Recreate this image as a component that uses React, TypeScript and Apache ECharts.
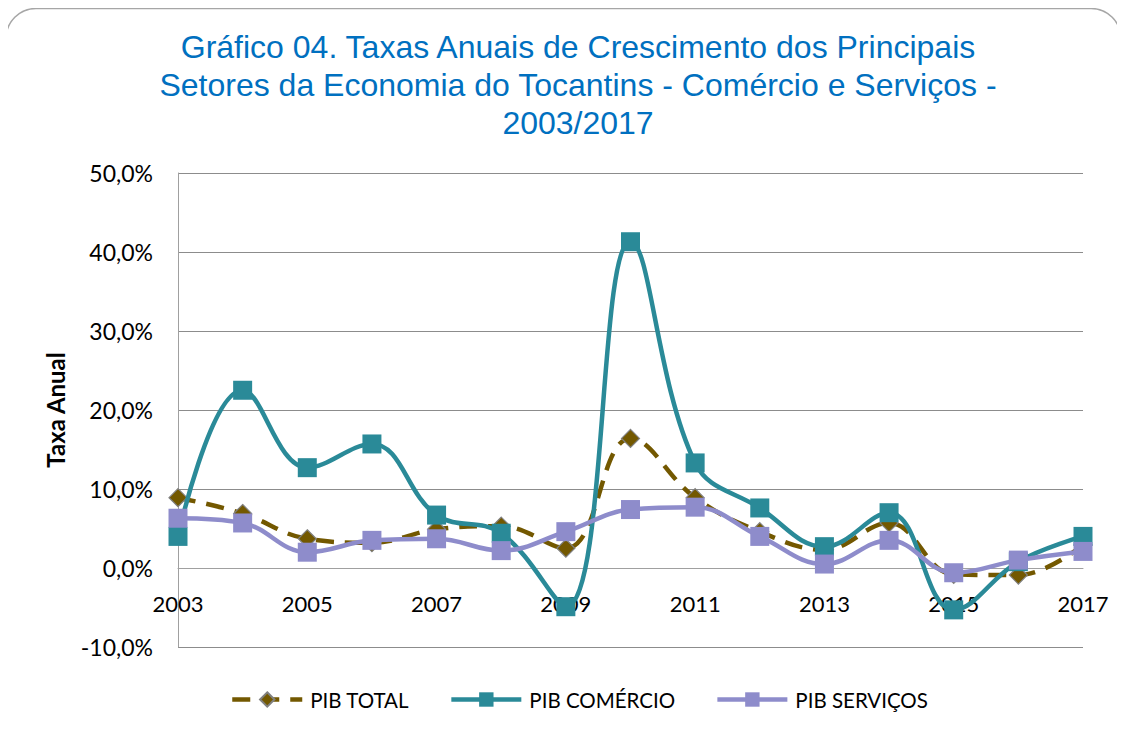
import React, { useEffect, useRef } from "react";
import * as echarts from "echarts";

const years = ["2003","2004","2005","2006","2007","2008","2009","2010","2011","2012","2013","2014","2015","2016","2017"];
const pibTotal = [8.9, 6.9, 3.7, 3.2, 4.9, 5.3, 2.5, 16.4, 8.9, 4.6, 2.3, 5.7, -0.8, -0.9, 2.9];
const pibComercio = [4.0, 22.5, 12.7, 15.7, 6.7, 4.4, -4.9, 41.3, 13.3, 7.6, 2.7, 7.0, -5.3, 0.8, 4.0];
const pibServicos = [6.3, 5.7, 2.0, 3.5, 3.7, 2.2, 4.6, 7.4, 7.7, 4.0, 0.5, 3.5, -0.6, 1.0, 2.1];
const yTicks = { min: -10, max: 50, interval: 10 };
const titleText = "Gráfico 04. Taxas Anuais de Crescimento dos Principais\nSetores da Economia do Tocantins - Comércio e Serviços -\n2003/2017";

const FONT = "Lato, 'Open Sans', sans-serif";
const GRID = { left: 178, right: 42, top: 173, bottom: 87 };
const PLOT_H = 734 - GRID.top - GRID.bottom;

export default function App() {
  const ref = useRef<HTMLDivElement>(null);
  useEffect(() => {
    if (!ref.current) return;
    const chart = echarts.init(ref.current, undefined, { renderer: "svg" });
    // distance from the bottom of the plot to the zero line, so the category axis sits on 0
    const zeroOffset = (PLOT_H * (0 - yTicks.min)) / (yTicks.max - yTicks.min);
    chart.setOption({
      animation: false,
      backgroundColor: "#ffffff",
      title: {
        text: titleText,
        left: 573,
        textAlign: "center",
        top: 23,
        textStyle: {
          fontFamily: "'Liberation Sans', Arial, sans-serif",
          fontWeight: "normal",
          fontSize: 32,
          lineHeight: 38,
          color: "#0070C0",
        },
      },
      graphic: [
        {
          type: "rect",
          shape: { x: 6, y: 8.5, width: 1115, height: 760, r: 30 },
          style: { fill: "none", stroke: "#A6A6A6", lineWidth: 1.5 },
          silent: true,
          z: -1,
        },
      ],
      legend: {
        left: 225,
        top: 684,
        itemWidth: 70,
        itemHeight: 18,
        itemGap: 40,
        lineStyle: { width: 4.5 },
        textStyle: { fontFamily: FONT, fontSize: 20.5, color: "#000", padding: [0, 0, 0, 3] },
        data: ["PIB TOTAL", "PIB COMÉRCIO", "PIB SERVIÇOS"],
      },
      grid: { ...GRID, containLabel: false },
      xAxis: {
        type: "category",
        data: years,
        boundaryGap: false,
        offset: -zeroOffset,
        axisLine: { onZero: false, lineStyle: { color: "#A0A0A0", width: 1 } },
        axisTick: { show: false },
        axisLabel: {
          interval: 1,
          margin: 24,
          fontFamily: FONT,
          fontSize: 22,
          color: "#000",
        },
        splitLine: { show: false },
      },
      yAxis: {
        type: "value",
        min: yTicks.min,
        max: yTicks.max,
        interval: yTicks.interval,
        name: "Taxa Anual",
        nameLocation: "middle",
        nameRotate: 90,
        nameGap: 111,
        nameTextStyle: { fontFamily: FONT, fontSize: 24, fontWeight: "bold", color: "#000" },
        axisLine: { show: true, onZero: false, lineStyle: { color: "#A0A0A0", width: 1 } },
        axisTick: { show: false },
        axisLabel: {
          margin: 25,
          fontFamily: FONT,
          fontSize: 23,
          color: "#000",
          formatter: (v: number) => v.toFixed(1).replace(".", ",") + "%",
        },
        splitLine: { show: true, lineStyle: { color: "#8C8C8C", width: 1 } },
      },
      series: [
        {
          name: "PIB TOTAL",
          type: "line",
          data: pibTotal,
          smooth: 0.4,
          symbol: "diamond",
          symbolSize: 18,
          color: "#735800",
          itemStyle: { color: "#735800", borderColor: "#808080", borderWidth: 1.2 },
          lineStyle: { color: "#735800", width: 4.5, type: [18, 11] },
          z: 2,
        },
        {
          name: "PIB COMÉRCIO",
          type: "line",
          data: pibComercio,
          smooth: 0.4,
          symbol: "rect",
          symbolSize: 19,
          color: "#2A8A98",
          itemStyle: { color: "#2A8A98" },
          lineStyle: { color: "#2A8A98", width: 4.5 },
          z: 3,
        },
        {
          name: "PIB SERVIÇOS",
          type: "line",
          data: pibServicos,
          smooth: 0.4,
          symbol: "rect",
          symbolSize: 19,
          color: "#8E8CCB",
          itemStyle: { color: "#8E8CCB" },
          lineStyle: { color: "#8E8CCB", width: 4.5 },
          z: 4,
        },
      ],
    });
    return () => chart.dispose();
  }, []);
  return <div ref={ref} style={{ width: 1125, height: 734, margin: -8 }} />;
}
